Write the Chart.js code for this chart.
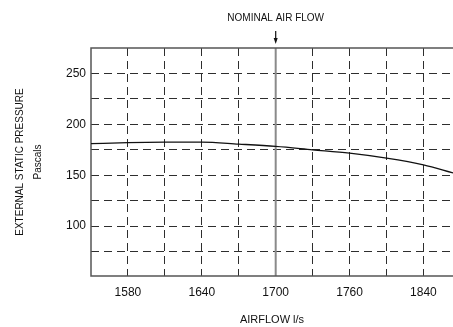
<!DOCTYPE html>
<html>
<head>
<meta charset="utf-8">
<script src="https://cdn.jsdelivr.net/npm/chart.js@4/dist/chart.umd.min.js"></script>
<style>
  html, body { margin: 0; padding: 0; background: #fff; }
  #wrap { width: 453px; height: 327px; }
</style>
</head>
<body>
<div id="wrap"><canvas id="fan"></canvas></div>
<script>
// fan curve
var airflow = [1550, 1580, 1610, 1640, 1670, 1700, 1730, 1760, 1790, 1820, 1844];
var pressure = [181, 182, 182.5, 182.6, 180.6, 178.3, 175, 171.7, 166.8, 160.2, 152.3];

// grid every 30 l/s, labels every other line (last one printed as 1840 on the drawing)
var xGrid = [1580, 1610, 1640, 1670, 1700, 1730, 1760, 1790, 1820];
var xLabels = { 1580: '1580', 1640: '1640', 1700: '1700', 1760: '1760', 1820: '1840' };
var yGrid = [75, 100, 125, 150, 175, 200, 225, 250];
var yLabels = [100, 150, 200, 250];
var nominalFlow = 1700;

var font = "'Liberation Sans Narrow', 'Liberation Sans', sans-serif";

var frame = {
    id: 'frame',
    beforeDatasetsDraw(chart) {
        var ctx = chart.ctx, a = chart.chartArea;
        var x = chart.scales.x.getPixelForValue(nominalFlow);
        ctx.save();
        // nominal flow line
        ctx.strokeStyle = '#8a8a8a';
        ctx.lineWidth = 2;
        ctx.beginPath();
        ctx.moveTo(x, a.top);
        ctx.lineTo(x, a.bottom);
        ctx.stroke();
        // left, top, bottom border
        ctx.strokeStyle = '#555';
        ctx.lineWidth = 1.5;
        ctx.beginPath();
        ctx.moveTo(a.right, a.top);
        ctx.lineTo(a.left, a.top);
        ctx.lineTo(a.left, a.bottom);
        ctx.lineTo(a.right, a.bottom);
        ctx.stroke();
        ctx.restore();
    },
    afterDraw(chart) {
        var ctx = chart.ctx;
        var x = chart.scales.x.getPixelForValue(nominalFlow);
        ctx.save();
        ctx.fillStyle = '#111';
        ctx.strokeStyle = '#111';
        ctx.font = '10px ' + font;
        ctx.textAlign = 'center';
        ctx.textBaseline = 'middle';
        ctx.fillText('NOMINAL AIR FLOW', x, 18);
        ctx.lineWidth = 1.2;
        ctx.beginPath();
        ctx.moveTo(x, 31);
        ctx.lineTo(x, 41);
        ctx.stroke();
        ctx.beginPath();
        ctx.moveTo(x - 2, 38);
        ctx.lineTo(x + 2, 38);
        ctx.lineTo(x, 44);
        ctx.closePath();
        ctx.fill();
        ctx.restore();
    }
};

new Chart(document.getElementById('fan'), {
    type: 'line',
    data: {
        datasets: [{
            data: airflow.map((v, i) => ({ x: v, y: pressure[i] })),
            borderColor: '#111',
            borderWidth: 1.3,
            pointRadius: 0,
            cubicInterpolationMode: 'monotone',
            fill: false
        }]
    },
    options: {
        responsive: true,
        maintainAspectRatio: false,
        animation: false,
        layout: { padding: { top: 48, right: 0, left: 0, bottom: 0 } },
        plugins: {
            legend: { display: false },
            tooltip: { enabled: false }
        },
        scales: {
            x: {
                type: 'linear',
                min: 1550,
                max: 1844,
                afterBuildTicks: s => { s.ticks = xGrid.map(v => ({ value: v })); },
                afterFit: s => { s.height = 51; },
                ticks: {
                    autoSkip: false,
                    maxRotation: 0,
                    color: '#111',
                    font: { family: font, size: 12 },
                    padding: 9,
                    callback: v => xLabels[v] || ''
                },
                grid: {
                    color: '#2e2e2e',
                    lineWidth: 1,
                    drawTicks: false
                },
                border: { display: false, dash: [8, 5] },
                title: {
                    display: true,
                    text: 'AIRFLOW l/s',
                    color: '#111',
                    font: { family: font, size: 11 },
                    padding: { top: 0, bottom: 0 }
                }
            },
            y: {
                type: 'linear',
                min: 51,
                max: 275,
                afterBuildTicks: s => { s.ticks = yGrid.map(v => ({ value: v })); },
                afterFit: s => { s.width = 91; },
                ticks: {
                    autoSkip: false,
                    color: '#111',
                    font: { family: font, size: 12 },
                    padding: 5,
                    callback: v => yLabels.indexOf(v) >= 0 ? String(v) : ''
                },
                grid: {
                    color: '#2e2e2e',
                    lineWidth: 1,
                    drawTicks: false
                },
                border: { display: false, dash: [8, 5] },
                title: {
                    display: true,
                    text: ['EXTERNAL STATIC PRESSURE', 'Pascals'],
                    color: '#111',
                    font: { family: font, size: 10, lineHeight: 1.8 },
                    padding: { top: 11, bottom: 0 }
                }
            }
        }
    },
    plugins: [frame]
});
</script>
</body>
</html>
